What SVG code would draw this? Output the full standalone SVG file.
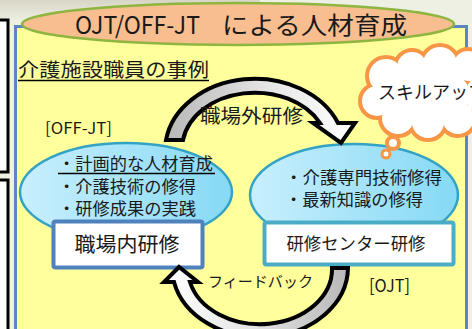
<svg xmlns="http://www.w3.org/2000/svg" width="472" height="329" viewBox="0 0 472 329">
<defs>
<style>
.jp{font-family:"Noto Sans CJK JP","Noto Sans",sans-serif;fill:#1a1a1a}
.ell{stroke:#33a2c4;stroke-width:2.5}
.arw{stroke:#000;stroke-width:4;stroke-linejoin:miter}
.cloudS{fill:#f79646;stroke:#f79646;stroke-width:8}
.cloudF{fill:#fff}
</style>
<linearGradient id="gEll" x1="0" y1="0" x2="1" y2="0">
<stop offset="0" stop-color="#c9effc"/>
<stop offset="1" stop-color="#86d9f5"/>
</linearGradient>
<linearGradient id="gTop" x1="0" y1="0" x2="1" y2="0">
<stop offset="0" stop-color="#b8b8b8"/>
<stop offset="0.55" stop-color="#e6e6e6"/>
<stop offset="1" stop-color="#ffffff"/>
</linearGradient>
<linearGradient id="gBot" x1="1" y1="0" x2="0" y2="0">
<stop offset="0" stop-color="#b8b8b8"/>
<stop offset="0.55" stop-color="#e6e6e6"/>
<stop offset="1" stop-color="#ffffff"/>
</linearGradient>
<linearGradient id="gBg" x1="0" y1="0" x2="0" y2="1">
<stop offset="0" stop-color="#d8d6c6"/>
<stop offset="1" stop-color="#eef0e4"/>
</linearGradient>
</defs>

<rect x="0" y="0" width="472" height="329" fill="#eef0e4"/>
<rect x="0" y="0" width="260" height="22" fill="url(#gBg)"/>

<g id="leftBoxes">
<rect x="-10" y="20" width="18" height="152" fill="#fff" stroke="#000" stroke-width="3"/>
<rect x="-10" y="180" width="18" height="160" fill="#fff" stroke="#000" stroke-width="3"/>
</g>

<g id="panel">
<rect x="15.5" y="26.5" width="451" height="320" fill="#ffff9c" stroke="#5a87c4" stroke-width="3"/>
</g>

<g id="title">
<ellipse cx="238" cy="24" rx="216" ry="21" fill="#f8be90" stroke="#8db53f" stroke-width="2.5"/>
<text class="jp" y="34" font-size="24"><tspan x="75" textLength="125" lengthAdjust="spacingAndGlyphs">OJT/OFF-JT</tspan><tspan x="222" textLength="185" lengthAdjust="spacingAndGlyphs">による人材育成</tspan></text>
</g>

<g id="subtitle">
<text class="jp" x="18" y="77" font-size="19" textLength="191" lengthAdjust="spacingAndGlyphs">介護施設職員の事例</text>
<line x1="18" y1="80.5" x2="209" y2="80.5" stroke="#000" stroke-width="1.5"/>
</g>

<g id="offjt-label">
<text class="jp" x="45" y="134" font-size="16" textLength="67" lengthAdjust="spacingAndGlyphs">[OFF-JT]</text>
</g>

<g id="ojt-label">
<text class="jp" x="369" y="292" font-size="17" textLength="41" lengthAdjust="spacingAndGlyphs">[OJT]</text>
</g>

<g id="cloud">
<g class="cloudS">
<circle cx="386" cy="76" r="17"/>
<circle cx="412" cy="67" r="15"/>
<circle cx="440" cy="64" r="17"/>
<circle cx="468" cy="66" r="15"/>
<circle cx="377" cy="101" r="15"/>
<circle cx="398" cy="118" r="16"/>
<circle cx="428" cy="122" r="16"/>
<circle cx="458" cy="118" r="16"/>
<circle cx="485" cy="95" r="20"/>
<ellipse cx="425" cy="95" rx="45" ry="30"/>
</g>
<g class="cloudF">
<circle cx="386" cy="76" r="17"/>
<circle cx="412" cy="67" r="15"/>
<circle cx="440" cy="64" r="17"/>
<circle cx="468" cy="66" r="15"/>
<circle cx="377" cy="101" r="15"/>
<circle cx="398" cy="118" r="16"/>
<circle cx="428" cy="122" r="16"/>
<circle cx="458" cy="118" r="16"/>
<circle cx="485" cy="95" r="20"/>
<ellipse cx="425" cy="95" rx="45" ry="30"/>
</g>
<text class="jp" x="378" y="99" font-size="18" textLength="108" lengthAdjust="spacingAndGlyphs">スキルアップ</text>
</g>

<g id="offjt-node">
<ellipse class="ell" cx="126" cy="192" rx="106" ry="49" fill="url(#gEll)"/>
<text class="jp" x="58" y="170" font-size="17" textLength="155" lengthAdjust="spacingAndGlyphs">・計画的な人材育成</text>
<line x1="58" y1="173.5" x2="215" y2="173.5" stroke="#000" stroke-width="1.3"/>
<text class="jp" x="58" y="193" font-size="17" textLength="138" lengthAdjust="spacingAndGlyphs">・介護技術の修得</text>
<text class="jp" x="58" y="215" font-size="17" textLength="138" lengthAdjust="spacingAndGlyphs">・研修成果の実践</text>
</g>

<g id="center-node">
<ellipse class="ell" cx="354" cy="195" rx="104" ry="51" fill="url(#gEll)"/>
<text class="jp" x="285" y="184" font-size="17" textLength="157" lengthAdjust="spacingAndGlyphs">・介護専門技術修得</text>
<text class="jp" x="285" y="206" font-size="17" textLength="138" lengthAdjust="spacingAndGlyphs">・最新知識の修得</text>
</g>

<g id="bubbles">
<circle cx="393" cy="143" r="6" fill="#fff" stroke="#f79646" stroke-width="4"/>
<circle cx="386" cy="154" r="4" fill="#fff" stroke="#f79646" stroke-width="3"/>
</g>

<g id="inhouse">
<rect x="53.5" y="221.5" width="149" height="46" rx="2" fill="#fff" stroke="#4f81bd" stroke-width="4"/>
<text class="jp" x="127" y="252" font-size="20" text-anchor="middle" textLength="105" lengthAdjust="spacingAndGlyphs">職場内研修</text>
</g>

<g id="center-training">
<rect x="264.5" y="222.5" width="189" height="42" rx="2" fill="#fff" stroke="#4bacc6" stroke-width="4"/>
<text class="jp" x="356" y="250" font-size="17" text-anchor="middle" textLength="139" lengthAdjust="spacingAndGlyphs">研修センター研修</text>
</g>

<g id="connectors">
<path class="arw" fill="url(#gTop)" d="M166 140 A90 72 0 0 1 338 123 L355 123 L341 143 L313 123 L320 123 A73 56 0 0 0 183 140 Z"/>
<path class="arw" fill="url(#gBot)" d="M348 268 A88 70 0 0 1 174 282 L164 282 L179 267 L198 282 L190 282 A72 55 0 0 0 332 268 Z"/>
<text class="jp" x="200" y="123" font-size="19" textLength="103" lengthAdjust="spacingAndGlyphs">職場外研修</text>
<text class="jp" x="208" y="287" font-size="15" textLength="105" lengthAdjust="spacingAndGlyphs">フィードバック</text>
</g>
</svg>
